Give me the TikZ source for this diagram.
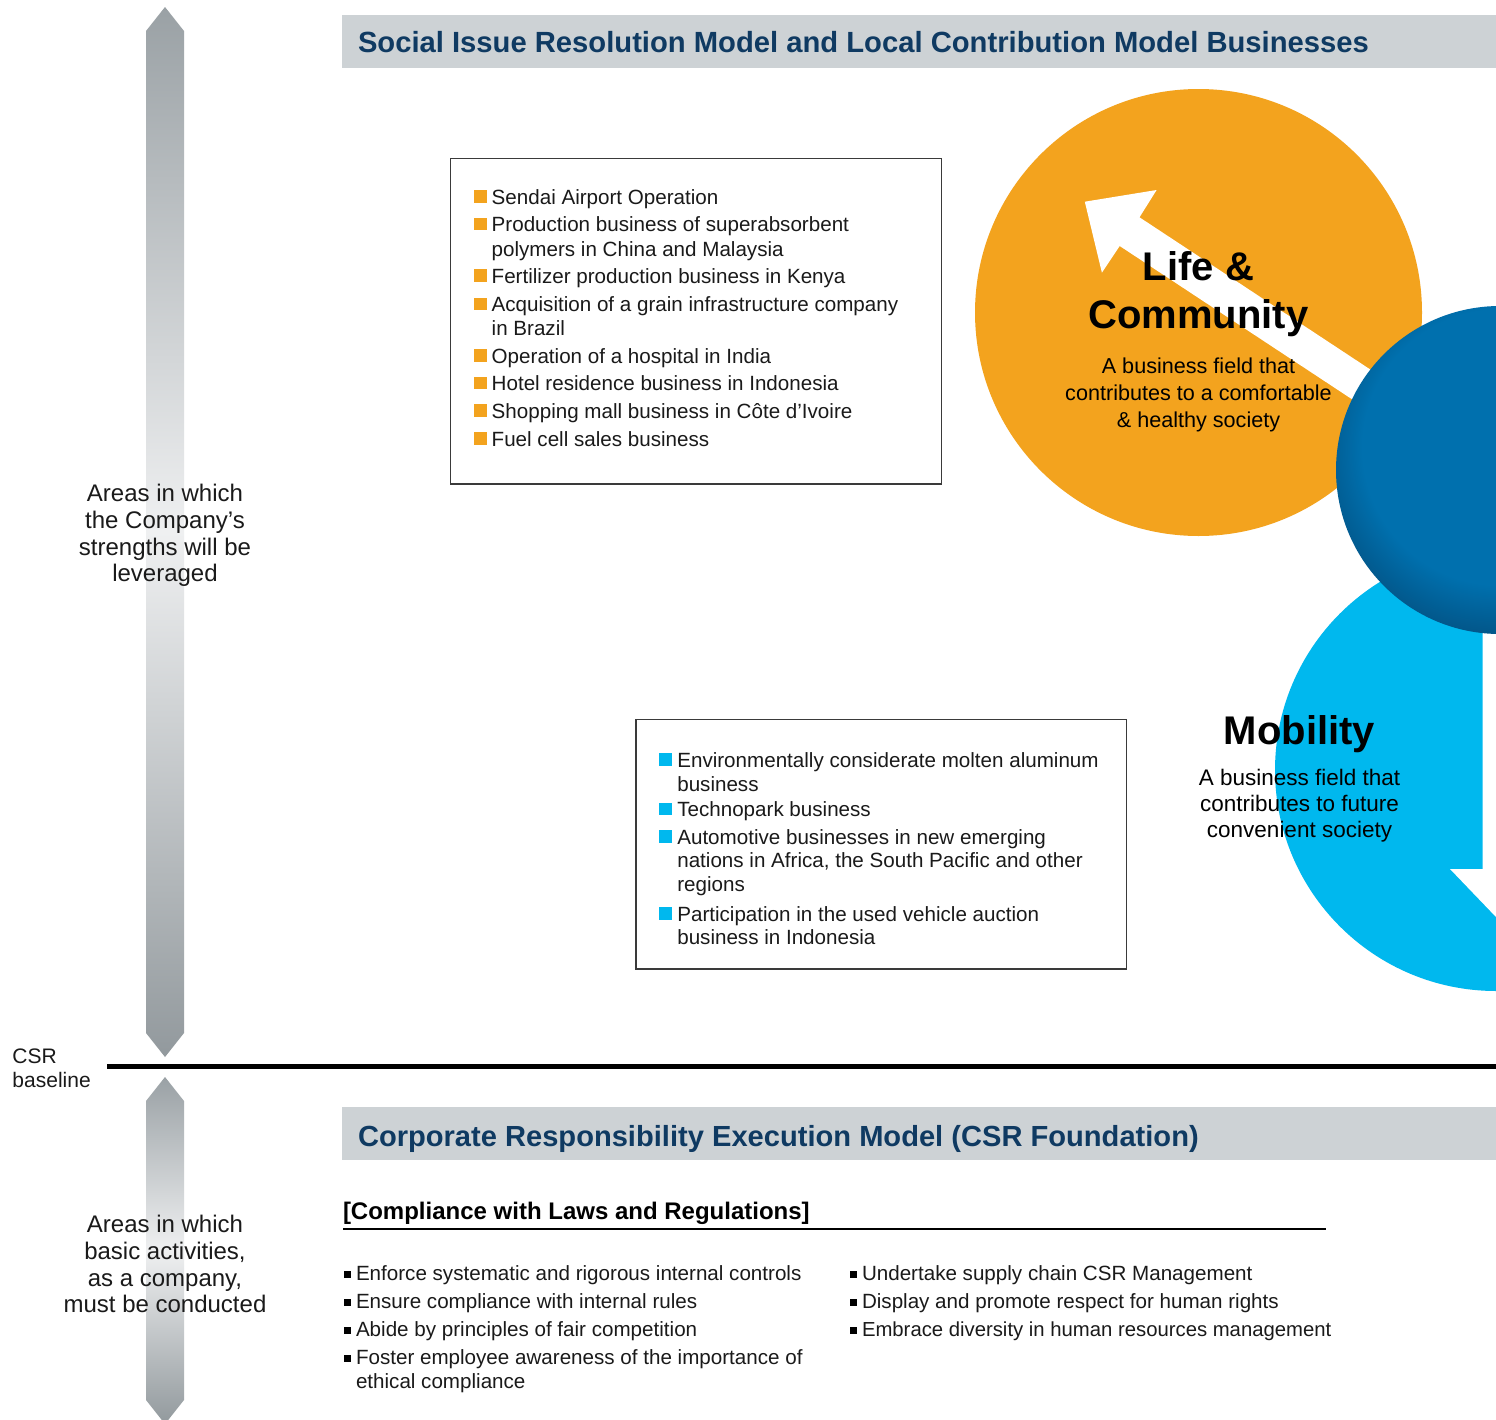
\documentclass[tikz,border=0pt]{standalone}
\usepackage{fontspec}
\setmainfont{Liberation Sans}
\definecolor{hdrgray}{HTML}{CDD2D5}
\definecolor{navy}{HTML}{0F3A62}
\definecolor{orng}{HTML}{F3A31E}
\definecolor{cyanb}{HTML}{00B8EE}
\definecolor{dblue}{HTML}{0070AE}
\definecolor{dblueedge}{HTML}{034A78}
\definecolor{arrtop}{HTML}{9AA1A5}
\definecolor{arrbot}{HTML}{92999D}
\definecolor{arrmid}{HTML}{EFF0F1}
\definecolor{txtc}{HTML}{1A1A1A}
\definecolor{boxline}{HTML}{3A3A3A}
\pgfdeclareradialshading{ballb}{\pgfpoint{0bp}{6bp}}{color(0bp)=(dblue); color(21bp)=(dblue); color(31bp)=(dblueedge); color(50bp)=(dblueedge)}
\tikzset{
  hdrbar/.style={fill=hdrgray, draw=none},
  hdr/.style={font=\fontsize{29.2}{34}\selectfont\bfseries, text=navy, anchor=base west, inner sep=0, outer sep=0},
  btxt/.style={font=\fontsize{20.6}{24}\selectfont, text=txtc, anchor=base west, inner sep=0, outer sep=0},
  obul/.style={fill=orng, minimum size=12.5pt, inner sep=0, outer sep=0, anchor=south west},
  cbul/.style={fill=cyanb, minimum size=12.5pt, inner sep=0, outer sep=0, anchor=south west},
  kbul/.style={fill=black, minimum size=7pt, inner sep=0, outer sep=0, anchor=south west},
  sidetxt/.style={font=\fontsize{24}{27}\selectfont, text=txtc, anchor=base, inner sep=0, outer sep=0},
  bigtitle/.style={font=\fontsize{40}{48}\selectfont\bfseries, text=black, anchor=base, inner sep=0, outer sep=0},
  lifesub/.style={font=\fontsize{21.6}{27}\selectfont, text=black, anchor=base, inner sep=0, outer sep=0},
  mobsub/.style={font=\fontsize{22.5}{27}\selectfont, text=black, anchor=base, inner sep=0, outer sep=0},
  itembox/.style={draw=boxline, line width=1.2pt},
  vshaft/.style={top color=arrtop, bottom color=arrbot, middle color=arrmid, draw=none},
}
\begin{document}
\begin{tikzpicture}[x=1pt, y=-1pt]
\useasboundingbox (0,0) rectangle (1496,1419);
\fill[white] (0,0) rectangle (1496,1419);
\clip (0,0) rectangle (1496,1419);

% vertical arrows
\shade[vshaft] (146,31) -- (165,7) -- (184,31) -- (184,1033) -- (165,1057) -- (146,1033) -- cycle;
\shade[vshaft] (146,1101) -- (165,1077) -- (184,1101) -- (184,1400) -- (165,1424) -- (146,1400) -- cycle;

% CSR baseline
\coordinate (bl1) at (107,1066.5);
\coordinate (bl2) at (1496,1066.5);
\draw[line width=4.5pt, black] (bl1) -- (bl2);
\node[btxt, font=\fontsize{21}{24}\selectfont] (csr1) at (12.5,1063.3) {CSR};
\node[btxt, font=\fontsize{21}{24}\selectfont] (csr2) at (12.5,1087.3) {baseline};

% side labels
\node[sidetxt] (s1) at (165,501.7) {Areas in which};
\node[sidetxt] (s2) at (165,528.5) {the Company’s};
\node[sidetxt] (s3) at (165,555.2) {strengths will be};
\node[sidetxt] (s4) at (165,581.5) {leveraged};
\node[sidetxt] (t1) at (165,1232.3) {Areas in which};
\node[sidetxt] (t2) at (165,1259) {basic activities,};
\node[sidetxt] (t3) at (165,1286) {as a company,};
\node[sidetxt] (t4) at (165,1312) {must be conducted};

% header bars
\fill[hdrbar] (342,15) rectangle (1496,68);
\node[hdr] (h1) at (358,52.5) {Social Issue Resolution Model and Local Contribution Model Businesses};
\fill[hdrbar] (342,1107) rectangle (1496,1160);
\node[hdr, font=\fontsize{29.1}{34}\selectfont\bfseries] (h2) at (358,1146.5) {Corporate Responsibility Execution Model (CSR Foundation)};

% circles
\fill[orng] (1198.5,312.5) circle (223.5);
\fill[white] (1084.8,201.7) -- (1156.6,190) -- (1139.5,217.3) -- (1415,399) -- (1395.3,427.8) -- (1119.7,246) -- (1101.9,272.7) -- cycle;
\fill[cyanb] (1496,770) circle (221);
\fill[white] (1482.5,600) -- (1496,600) -- (1496,917) -- (1450,869) -- (1482.5,869) -- cycle;
\shade[shading=ballb] (1500,470) circle (164);

% circle texts
\node[bigtitle] (lc1) at (1198.5,280) {Life \&};
\node[bigtitle] (lc2) at (1198.5,328.3) {Community};
\node[lifesub] (ls1) at (1198.5,373.3) {A business field that};
\node[lifesub] (ls2) at (1198.5,400.7) {contributes to a comfortable};
\node[lifesub] (ls3) at (1198.5,427.7) {\& healthy society};
\node[bigtitle] (mb1) at (1299.5,744) {Mobility};
\node[mobsub] (ms1) at (1299.5,785) {A business field that};
\node[mobsub] (ms2) at (1299.5,811.7) {contributes to future};
\node[mobsub] (ms3) at (1299.5,837.7) {convenient society};

% orange box
\draw[itembox] (450.5,158.5) rectangle (941.5,484);
\node[obul] (ob1) at (474,202.8) {};
\node[obul] (ob2) at (474,230.2) {};
\node[obul] (ob3) at (474,281.8) {};
\node[obul] (ob4) at (474,310.2) {};
\node[obul] (ob5) at (474,361.8) {};
\node[obul] (ob6) at (474,389.2) {};
\node[obul] (ob7) at (474,416.8) {};
\node[obul] (ob8) at (474,444.5) {};
\node[btxt] (o1) at (491.7,204.3) {Sendai Airport Operation};
\node[btxt] (o2) at (491.7,231.7) {Production business of superabsorbent};
\node[btxt] (o2b) at (491.7,256) {polymers in China and Malaysia};
\node[btxt] (o3) at (491.7,283.3) {Fertilizer production business in Kenya};
\node[btxt] (o4) at (491.7,311.7) {Acquisition of a grain infrastructure company};
\node[btxt] (o4b) at (491.7,335.7) {in Brazil};
\node[btxt] (o5) at (491.7,363.3) {Operation of a hospital in India};
\node[btxt] (o6) at (491.7,390.7) {Hotel residence business in Indonesia};
\node[btxt] (o7) at (491.7,418.3) {Shopping mall business in Côte d’Ivoire};
\node[btxt] (o8) at (491.7,446) {Fuel cell sales business};

% blue box
\draw[itembox] (636,719.5) rectangle (1126.5,969);
\node[cbul] (cb1) at (659.3,765.8) {};
\node[cbul] (cb2) at (659.3,815.2) {};
\node[cbul] (cb3) at (659.3,842.8) {};
\node[cbul] (cb4) at (659.3,919.5) {};
\node[btxt] (c1) at (677.3,767.3) {Environmentally considerate molten aluminum};
\node[btxt] (c1b) at (677.3,791) {business};
\node[btxt] (c2) at (677.3,816.7) {Technopark business};
\node[btxt] (c3) at (677.3,844.3) {Automotive businesses in new emerging};
\node[btxt] (c3b) at (677.3,867.7) {nations in Africa, the South Pacific and other};
\node[btxt] (c3c) at (677.3,891.7) {regions};
\node[btxt] (c4) at (677.3,921) {Participation in the used vehicle auction};
\node[btxt] (c4b) at (677.3,944.3) {business in Indonesia};

% compliance
\node[btxt, font=\fontsize{24}{28}\selectfont\bfseries, text=black] (cp) at (343,1219) {[Compliance with Laws and Regulations]};
\coordinate (ul1) at (343,1229);
\coordinate (ul2) at (1326,1229);
\draw[line width=1.2pt, black] (ul1) -- (ul2);

\node[kbul] (kb1) at (344,1277.5) {};
\node[kbul] (kb2) at (344,1305.5) {};
\node[kbul] (kb3) at (344,1333.5) {};
\node[kbul] (kb4) at (344,1361.5) {};
\node[btxt] (k1) at (356,1280) {Enforce systematic and rigorous internal controls};
\node[btxt] (k2) at (356,1308) {Ensure compliance with internal rules};
\node[btxt] (k3) at (356,1336) {Abide by principles of fair competition};
\node[btxt] (k4) at (356,1364) {Foster employee awareness of the importance of};
\node[btxt] (k4b) at (356,1388) {ethical compliance};
\node[kbul] (kb5) at (850,1277.5) {};
\node[kbul] (kb6) at (850,1305.5) {};
\node[kbul] (kb7) at (850,1333.5) {};
\node[btxt] (k5) at (862,1280) {Undertake supply chain CSR Management};
\node[btxt] (k6) at (862,1308) {Display and promote respect for human rights};
\node[btxt, font=\fontsize{20.3}{24}\selectfont] (k7) at (862,1336) {Embrace diversity in human resources management};
\end{tikzpicture}
\end{document}
